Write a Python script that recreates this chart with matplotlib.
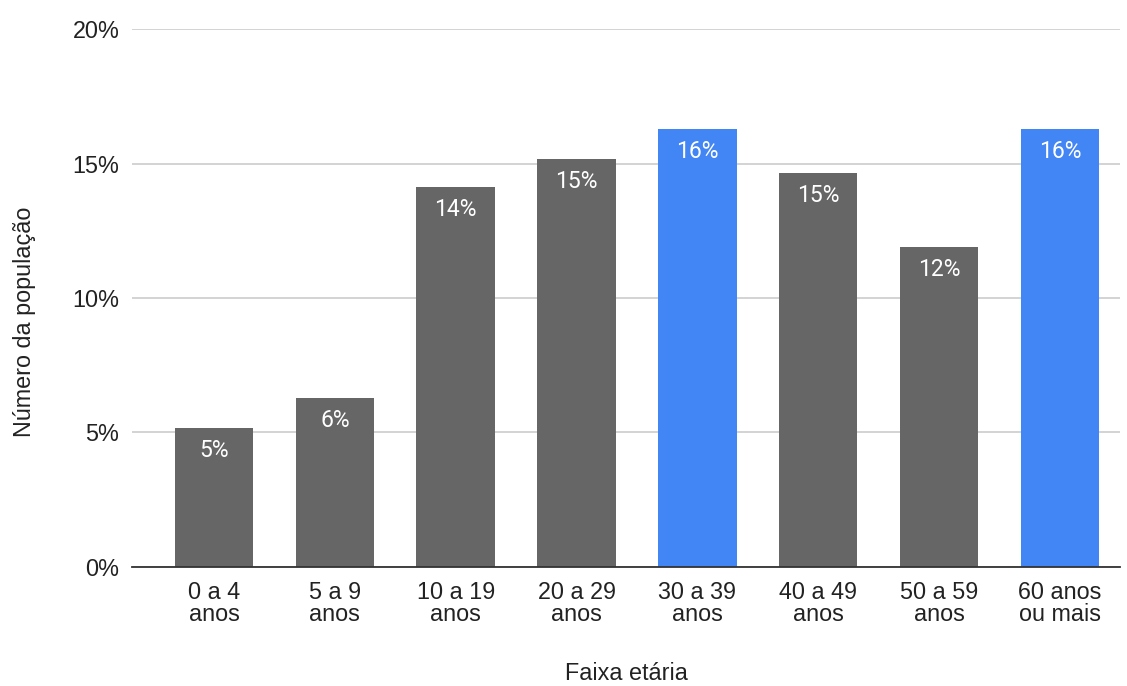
import matplotlib.pyplot as plt
import numpy as np

plt.rcParams['font.family'] = ['Liberation Sans', 'DejaVu Sans']

categorias = ["0 a 4\nanos", "5 a 9\nanos", "10 a 19\nanos", "20 a 29\nanos",
              "30 a 39\nanos", "40 a 49\nanos", "50 a 59\nanos", "60 anos\nou mais"]
valores = [0.0517, 0.0628, 0.1413, 0.1517, 0.1628, 0.1465, 0.119, 0.1628]
rotulos = ["5%", "6%", "14%", "15%", "16%", "15%", "12%", "16%"]
destaque = [False, False, False, False, True, False, False, True]

cinza = "#666666"
azul = "#4285f4"
cores = [azul if d else cinza for d in destaque]

fig = plt.figure(figsize=(11.27, 6.86), dpi=100)
ax = fig.add_axes([0.117, 0.1735, 0.877, 0.7842])

x = np.arange(len(categorias))
barras = ax.bar(x, valores, width=0.65, color=cores, zorder=3)

# rotulos dentro do topo das barras
for b, r in zip(barras, rotulos):
    ax.text(b.get_x() + b.get_width() / 2, b.get_height() - 0.0042, r,
            ha='center', va='top', color='white', fontsize=16.5,
            family=['Roboto', 'DejaVu Sans'], zorder=4)

ax.set_xlim(-0.68, len(categorias) - 0.5)
ax.set_ylim(0, 0.20)
ax.set_yticks([0, 0.05, 0.10, 0.15, 0.20])
ax.set_yticklabels(["0%", "5%", "10%", "15%", "20%"], fontsize=16.8, color="#222222")
ax.set_xticks(x)
ax.set_xticklabels(categorias, fontsize=16.8, color="#222222", linespacing=0.95)
ax.tick_params(axis='both', length=0)
ax.tick_params(axis='y', pad=9)
ax.tick_params(axis='x', pad=10)

ax.grid(axis='y', color="#cccccc", linewidth=1.2, zorder=0)
for s in ['top', 'right', 'left']:
    ax.spines[s].set_visible(False)
ax.spines['bottom'].set_color("#333333")
ax.spines['bottom'].set_linewidth(1.3)
ax.spines['bottom'].set_zorder(5)

ax.set_xlabel("Faixa etária", fontsize=16.8, color="#222222", labelpad=26)
ax.set_ylabel("Número da população", fontsize=16.8, color="#222222")
ax.yaxis.set_label_coords(-0.097, 0.455)

fig.savefig("out.png", dpi=100)
